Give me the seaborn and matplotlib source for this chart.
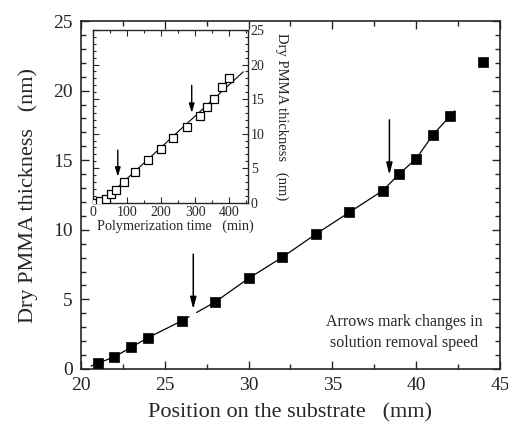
import numpy as np
import pandas as pd
import matplotlib
matplotlib.use("Agg")
import matplotlib.pyplot as plt
from matplotlib.ticker import MultipleLocator
import seaborn as sns

# Dry PMMA thickness vs position on the substrate (main panel)
position_mm = [21, 22, 23, 24, 26, 28, 30, 32, 34, 36, 38, 39, 40, 41, 42, 44]
thickness_nm = [0.40, 0.88, 1.56, 2.25, 3.45, 4.81, 6.51, 8.02, 9.68, 11.25,
                12.81, 14.03, 15.11, 16.83, 18.15, 22.08]

# Dry PMMA thickness vs polymerization time (inset)
time_min = [5, 20, 38, 52, 66, 90, 122, 160, 200, 236, 275, 315, 335, 356, 380, 400]
inset_thickness_nm = [0.0, 0.2, 0.5, 1.2, 1.9, 3.0, 4.5, 6.2, 7.7, 9.4, 11.0,
                      12.6, 13.8, 15.0, 16.7, 18.0]

# Positions where the solution removal speed changes
arrow_pos_mm = [26.7, 38.4]
arrow_time_min = [72, 290]

sns.set_style("ticks")
plt.rcParams["font.family"] = ["Liberation Serif", "DejaVu Serif"]
plt.rcParams["mathtext.fontset"] = "stix"

fig = plt.figure(figsize=(5.08, 4.22), dpi=100)
ax = fig.add_axes([0.1594, 0.1256, 0.8249, 0.8246])
ins = fig.add_axes([0.1825, 0.5178, 0.3057, 0.4111])

main_df = pd.DataFrame({"pos": position_mm, "d": thickness_nm})
ins_df = pd.DataFrame({"t": time_min, "d": inset_thickness_nm})


def extend(xa, ya, xb, yb, x_new):
    """Point on the straight line through (xa, ya) and (xb, yb) at x_new."""
    return ya + (yb - ya) * (x_new - xa) / (xb - xa)


# Guide line through the main data, broken at the first arrow
x = np.asarray(position_mm, float)
y = np.asarray(thickness_nm, float)
i_break = 5  # first point after the first arrow
seg_a_x = [20.6] + list(x[:i_break]) + [26.45]
seg_a_y = ([extend(x[0], y[0], x[1], y[1], 20.6)] + list(y[:i_break])
           + [extend(x[i_break - 1], y[i_break - 1], x[i_break], y[i_break], 26.45)])
seg_b_x = [26.9] + list(x[i_break:-1]) + [42.3]
seg_b_y = ([extend(x[i_break - 1], y[i_break - 1], x[i_break], y[i_break], 26.9)]
           + list(y[i_break:-1]) + [extend(x[-3], y[-3], x[-2], y[-2], 42.3)])
for sx, sy in [(seg_a_x, seg_a_y), (seg_b_x, seg_b_y)]:
    sns.lineplot(x=sx, y=sy, ax=ax, color="black", lw=0.9, sort=False,
                 estimator=None)

sns.scatterplot(data=main_df, x="pos", y="d", ax=ax, marker="s", s=52,
                color="black", edgecolor="black", linewidth=0.5, zorder=3)

ax.set_xlim(20, 45)
ax.set_ylim(0, 25)
ax.xaxis.set_major_locator(MultipleLocator(5))
ax.xaxis.set_minor_locator(MultipleLocator(2.5))
ax.yaxis.set_major_locator(MultipleLocator(5))
ax.yaxis.set_minor_locator(MultipleLocator(1))
ax.tick_params(which="both", direction="in", top=True, right=True,
               labelsize=14, width=1.0)
ax.tick_params(which="major", length=6, pad=6)
ax.tick_params(which="minor", length=3.5)
for sp in ax.spines.values():
    sp.set_linewidth(1.2)
ax.set_xlabel("Position on the substrate   (mm)", fontsize=16, labelpad=6.5)
ax.set_ylabel("Dry PMMA thickness   (nm)", fontsize=16, labelpad=11)

arrow_main = dict(arrowstyle="-|>,head_width=0.18,head_length=0.7",
                  color="black", lw=1.1, shrinkA=0, shrinkB=0,
                  mutation_scale=10)
ax.annotate("", xy=(arrow_pos_mm[0], 4.3), xytext=(arrow_pos_mm[0], 8.25),
            arrowprops=arrow_main)
ax.annotate("", xy=(arrow_pos_mm[1], 13.95), xytext=(arrow_pos_mm[1], 17.9),
            arrowprops=arrow_main)

ax.text(39.3, 2.6, "Arrows mark changes in\nsolution removal speed",
        ha="center", va="center", multialignment="center", fontsize=11.5,
        linespacing=1.4)

# Inset: linear fit and data
slope, intercept = np.polyfit(time_min, inset_thickness_nm, 1)
fit_t = np.array([15.0, 442.0])
sns.lineplot(x=fit_t, y=slope * fit_t + intercept, ax=ins, color="black",
             lw=0.8, estimator=None)
sns.scatterplot(data=ins_df, x="t", y="d", ax=ins, marker="s", s=34,
                facecolor="white", edgecolor="black", linewidth=0.9, zorder=3)

ins.set_xlim(-2, 456)
ins.set_ylim(-0.12, 25)
ins.xaxis.set_major_locator(MultipleLocator(100))
ins.xaxis.set_minor_locator(MultipleLocator(50))
ins.yaxis.set_major_locator(MultipleLocator(5))
ins.yaxis.set_minor_locator(MultipleLocator(1))
ins.tick_params(which="both", direction="in", top=True, right=True,
                left=True, labelleft=False, labelright=True, labelsize=10,
                width=0.8)
ins.tick_params(which="major", length=4, pad=2)
ins.tick_params(which="minor", length=2)
for sp in ins.spines.values():
    sp.set_linewidth(1.0)
ins.set_xlabel("Polymerization time   (min)", fontsize=10.2, labelpad=2)
ins.xaxis.set_label_coords(0.53, -0.09)
ins.yaxis.set_label_position("right")
ins.set_ylabel("Dry PMMA thickness   (nm)", fontsize=10.5, rotation=270,
               labelpad=17)

arrow_ins = dict(arrowstyle="-|>,head_width=0.18,head_length=0.6",
                 color="black", lw=1.0, shrinkA=0, shrinkB=0,
                 mutation_scale=9)
ins.annotate("", xy=(arrow_time_min[0], 3.75), xytext=(arrow_time_min[0], 7.6),
             arrowprops=arrow_ins)
ins.annotate("", xy=(arrow_time_min[1], 13.0), xytext=(arrow_time_min[1], 17.0),
             arrowprops=arrow_ins)

fig.savefig("out.png", dpi=100)
